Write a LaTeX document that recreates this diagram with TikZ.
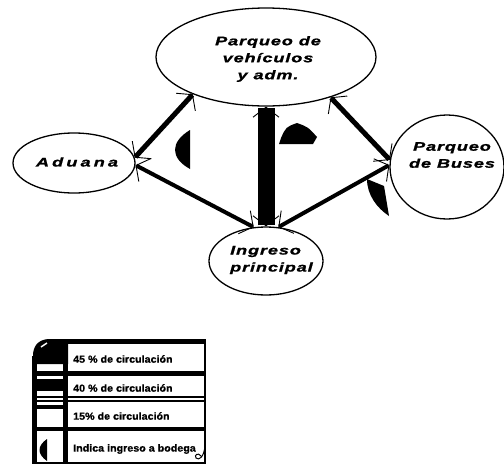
\documentclass[tikz,border=0pt]{standalone}
\usepackage{fontspec}
\setmainfont{Liberation Sans}
\newfontfamily\lblfont[FakeStretch=1.45,LetterSpace=7,FakeBold=1.2]{Liberation Sans}
\newfontfamily\lgdfont[FakeStretch=1.05,FakeBold=0.8]{Liberation Sans}
\usetikzlibrary{shapes.geometric,arrows.meta}
\tikzset{
  place/.style={draw, ellipse, line width=1.3pt, inner sep=0pt},
  lbl/.style={font=\lblfont\bfseries\itshape\fontsize{12.5}{17}\selectfont, align=center, inner sep=0pt},
  barb/.tip={Straight Barb[length=10pt,width=26pt,line width=0.9pt]},
  flow/.style={line width=#1, barb-barb},
  leaf/.style={fill=black},
  lgd/.style={font=\lgdfont\bfseries\fontsize{10.2}{12}\selectfont, anchor=west, inner sep=0pt}
}
\begin{document}
\begin{tikzpicture}[x=1pt,y=-1pt]
\useasboundingbox (0,0) rectangle (504,466);
% places
\node[place, minimum width=220pt, minimum height=98pt] (T) at (266,57) {};
\node[lbl] (Tt) at (268,59) {Parqueo de\\vehículos\\y adm.};
\node[place, minimum width=122pt, minimum height=60pt] (L) at (74,163) {};
\node[lbl, font=\lblfont\bfseries\itshape\fontsize{12.5}{17}\addfontfeature{LetterSpace=25}] (Lt) at (77,162) {Aduana};
\node[place, minimum width=114pt, minimum height=104pt] (R) at (447,167) {};
\node[lbl] (Rt) at (452,155) {Parqueo\\de Buses};
\node[place, minimum width=114pt, minimum height=68pt] (B) at (266,261) {};
\node[lbl, align=left, anchor=west] (Bt) at (230,260) {Ingreso\\principal};
% flows
\draw[flow=5pt] (L.5) -- (T.207);
\draw[flow=4pt] (L.-2) -- (B.110);
\draw[flow=17pt] (B.north) -- (T.south);
\draw[flow=5pt] (T.328) -- (R.173);
\draw[flow=4pt] (B.70) -- (R.178);
% entrance marks
\fill[leaf] (190,130) .. controls (170,142) and (170,158) .. (190,169) -- cycle;
\fill[leaf] (279,144) -- (281,138) .. controls (286,127) .. (297,123) .. controls (308,127) .. (317,137) -- (313,144) -- cycle;
\fill[leaf] (367,179) -- (384,186) -- (389,216) .. controls (377,208) and (367,195) .. (367,179) -- cycle;
% legend
\draw[line width=1.2pt] (48,340) -- (205,340) -- (205,463) -- (33,463) -- (33,356);
\fill (48,339) rectangle (205,344);
\fill (33,356) .. controls (33,346) and (38,340) .. (48,339) -- (68,339) -- (68,364) -- (33,364) -- cycle;
\draw[white, line width=1.5pt] (41,347) -- (47,343);
\fill (33,356) rectangle (37,463);
\fill (63,339) rectangle (68,463);
\fill (33,371) rectangle (205,376);
\draw[line width=1.2pt] (33,397) -- (205,397);
\draw[line width=1.6pt] (33,401) -- (205,401);
\fill (33,427) rectangle (205,431);
\fill (37,379) rectangle (63,391);
\fill (37,405) rectangle (63,409);
\fill[leaf] (47,439) .. controls (37,446) and (37,454) .. (47,461) -- cycle;
\draw[line width=1pt] (205,446) .. controls (204,457) and (199,461) .. (196,458) .. controls (194,455) and (198,452) .. (201,456);
\node[lgd] (l1) at (73,359) {45 \% de circulación};
\node[lgd] (l2) at (73,388) {40 \% de circulación};
\node[lgd] (l3) at (73,416) {15\% de circulación};
\node[lgd] (l4) at (73,449) {Indica ingreso a bodega};
\end{tikzpicture}
\end{document}
